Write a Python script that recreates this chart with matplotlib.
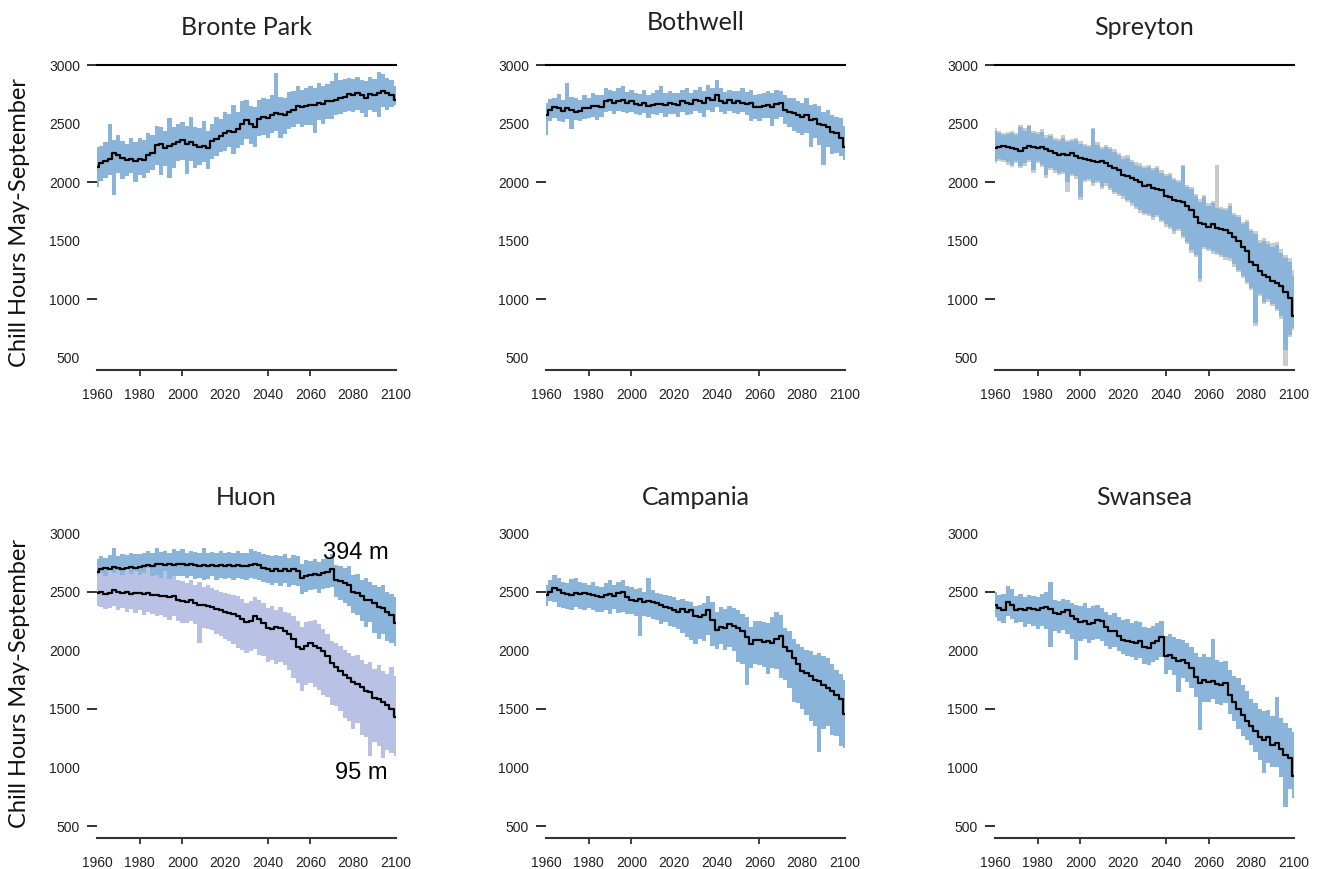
import numpy as np
import matplotlib.pyplot as plt

# ensemble range (lo/hi) and ensemble mean, chill hours May-September, every 2nd year
years = np.arange(1960, 2101, 2)

bronte_mean = [2130, 2160, 2180, 2200, 2250, 2230, 2210, 2190, 2200, 2180,
               2200, 2190, 2230, 2250, 2320, 2330, 2290, 2310, 2330, 2340,
               2360, 2330, 2340, 2320, 2300, 2310, 2290, 2350, 2370, 2390,
               2420, 2440, 2430, 2450, 2500, 2530, 2500, 2470, 2540, 2560,
               2550, 2570, 2590, 2580, 2570, 2600, 2620, 2650, 2640, 2650,
               2660, 2660, 2680, 2670, 2690, 2690, 2700, 2720, 2730, 2750,
               2740, 2760, 2740, 2720, 2750, 2740, 2760, 2780, 2760, 2740,
               2700]
bronte_hi = [2300, 2310, 2340, 2500, 2360, 2400, 2350, 2330, 2380, 2340,
             2380, 2360, 2420, 2400, 2480, 2470, 2440, 2550, 2470, 2500,
             2510, 2480, 2560, 2470, 2460, 2520, 2440, 2500, 2560, 2540,
             2600, 2580, 2660, 2600, 2690, 2700, 2650, 2640, 2700, 2720,
             2710, 2740, 2930, 2730, 2720, 2770, 2780, 2820, 2790, 2800,
             2820, 2800, 2850, 2820, 2840, 2860, 2930, 2870, 2880, 2890,
             2880, 2900, 2870, 2860, 2900, 2880, 2940, 2920, 2890, 2870,
             2820]
bronte_lo = [1960, 2010, 2040, 2060, 1890, 2080, 2030, 2050, 2080, 2000,
             2060, 2040, 2080, 2100, 2150, 2060, 2140, 2040, 2120, 2180,
             2190, 2070, 2180, 2120, 2150, 2170, 2110, 2200, 2220, 2260,
             2270, 2300, 2240, 2290, 2320, 2370, 2330, 2300, 2390, 2400,
             2380, 2420, 2440, 2380, 2410, 2450, 2470, 2500, 2470, 2490,
             2490, 2420, 2530, 2500, 2540, 2540, 2570, 2580, 2600, 2610,
             2600, 2620, 2590, 2560, 2620, 2600, 2560, 2640, 2620, 2640,
             2660]

bothwell_mean = [2570, 2620, 2640, 2630, 2610, 2630, 2620, 2600, 2610, 2630,
                 2630, 2650, 2650, 2640, 2690, 2700, 2680, 2690, 2700, 2680,
                 2690, 2670, 2660, 2680, 2650, 2660, 2670, 2670, 2660, 2680,
                 2670, 2660, 2690, 2680, 2670, 2700, 2690, 2680, 2720, 2700,
                 2740, 2690, 2680, 2700, 2680, 2690, 2680, 2670, 2680, 2640,
                 2640, 2650, 2660, 2640, 2670, 2680, 2620, 2600, 2590, 2570,
                 2560, 2570, 2530, 2540, 2500, 2490, 2470, 2430, 2420, 2380,
                 2300]
bothwell_hi = [2680, 2710, 2720, 2750, 2700, 2850, 2730, 2720, 2700, 2740,
               2720, 2760, 2740, 2740, 2800, 2790, 2780, 2800, 2820, 2770,
               2790, 2760, 2750, 2790, 2740, 2760, 2790, 2820, 2760, 2780,
               2760, 2760, 2790, 2800, 2760, 2790, 2810, 2780, 2830, 2800,
               2870, 2800, 2770, 2790, 2780, 2780, 2800, 2770, 2790, 2740,
               2750, 2760, 2780, 2760, 2790, 2780, 2740, 2720, 2720, 2690,
               2680, 2720, 2660, 2670, 2650, 2600, 2620, 2570, 2560, 2550,
               2480]
bothwell_lo = [2400, 2520, 2550, 2520, 2510, 2540, 2450, 2530, 2520, 2540,
               2550, 2560, 2530, 2560, 2600, 2610, 2580, 2610, 2600, 2590,
               2600, 2580, 2570, 2590, 2550, 2580, 2570, 2590, 2560, 2580,
               2580, 2560, 2600, 2570, 2580, 2610, 2590, 2560, 2620, 2600,
               2640, 2600, 2580, 2610, 2590, 2580, 2600, 2570, 2520, 2540,
               2520, 2550, 2550, 2480, 2540, 2560, 2500, 2470, 2440, 2420,
               2400, 2420, 2300, 2380, 2320, 2150, 2300, 2240, 2250, 2220,
               2190]

spreyton_mean = [2290, 2300, 2310, 2300, 2290, 2280, 2270, 2290, 2310, 2300,
                 2290, 2300, 2280, 2270, 2250, 2230, 2240, 2230, 2250, 2220,
                 2210, 2200, 2190, 2180, 2170, 2180, 2160, 2140, 2120, 2100,
                 2060, 2050, 2040, 2020, 2000, 1970, 1980, 1950, 1940, 1930,
                 1880, 1870, 1850, 1840, 1830, 1800, 1760, 1700, 1650, 1640,
                 1620, 1640, 1610, 1600, 1590, 1570, 1530, 1500, 1450, 1410,
                 1320, 1290, 1240, 1210, 1190, 1160, 1140, 1110, 1060, 1010,
                 860]
spreyton_hi = [2440, 2420, 2400, 2410, 2420, 2400, 2470, 2440, 2480, 2420,
               2410, 2430, 2380, 2390, 2360, 2350, 2380, 2340, 2350, 2360,
               2330, 2310, 2300, 2450, 2320, 2280, 2300, 2280, 2260, 2230,
               2200, 2210, 2170, 2150, 2140, 2120, 2130, 2100, 2120, 2080,
               2050, 2060, 2020, 2000, 2140, 1960, 1940, 1880, 1830, 1870,
               1800, 1820, 1780, 1770, 1760, 1800, 1720, 1700, 1640, 1660,
               1580, 1560, 1480, 1500, 1470, 1450, 1460, 1400, 1350, 1320,
               1200]
spreyton_lo = [2180, 2200, 2190, 2170, 2150, 2180, 2140, 2160, 2190, 2100,
               2180, 2150, 2060, 2120, 2100, 2080, 2090, 2000, 2070, 2050,
               1870, 2020, 2030, 1990, 2010, 1960, 1990, 1950, 1920, 1900,
               1880, 1850, 1820, 1790, 1760, 1740, 1730, 1700, 1720, 1680,
               1640, 1620, 1580, 1600, 1540, 1490, 1420, 1380, 1170, 1450,
               1430, 1410, 1400, 1380, 1360, 1350, 1300, 1250, 1200, 1150,
               1100, 800, 1050, 980, 1000, 960, 920, 860, 570, 700,
               760]
# second (grey) ensemble at Spreyton, mostly hidden behind the blue one
spreyton2_hi = [2460, 2440, 2420, 2430, 2440, 2420, 2490, 2460, 2490, 2440,
                2430, 2450, 2400, 2410, 2380, 2370, 2400, 2360, 2370, 2380,
                2350, 2330, 2320, 2460, 2340, 2300, 2320, 2300, 2280, 2250,
                2220, 2230, 2190, 2170, 2160, 2140, 2150, 2120, 2140, 2100,
                2070, 2080, 2040, 2020, 2150, 1980, 1960, 1900, 1860, 1890,
                1820, 1840, 2150, 1790, 1780, 1820, 1740, 1720, 1660, 1680,
                1600, 1580, 1510, 1520, 1500, 1480, 1490, 1430, 1380, 1350,
                1250]
spreyton2_lo = [2160, 2180, 2170, 2150, 2130, 2160, 2120, 2140, 2170, 2080,
                2160, 2130, 2040, 2100, 2080, 2060, 2070, 1920, 2050, 2030,
                1850, 2000, 2010, 1970, 1990, 1940, 1970, 1930, 1900, 1880,
                1860, 1830, 1800, 1770, 1740, 1720, 1710, 1680, 1700, 1660,
                1620, 1600, 1560, 1580, 1520, 1470, 1400, 1360, 1150, 1430,
                1410, 1390, 1380, 1360, 1340, 1330, 1280, 1230, 1180, 1130,
                1080, 770, 1030, 960, 980, 940, 900, 830, 430, 680,
                740]

huon394_mean = [2670, 2690, 2700, 2690, 2710, 2700, 2690, 2700, 2710, 2700,
                2710, 2720, 2730, 2720, 2740, 2740, 2730, 2740, 2730, 2740,
                2740, 2730, 2740, 2730, 2720, 2730, 2720, 2730, 2720, 2730,
                2720, 2730, 2720, 2730, 2720, 2720, 2730, 2740, 2730, 2700,
                2690, 2680, 2690, 2680, 2690, 2680, 2690, 2680, 2620, 2630,
                2640, 2650, 2640, 2660, 2670, 2690, 2600, 2590, 2570, 2560,
                2500, 2490, 2460, 2430, 2430, 2400, 2370, 2360, 2330, 2300,
                2230]
huon394_hi = [2780, 2800, 2790, 2810, 2870, 2800, 2820, 2810, 2830, 2820,
              2820, 2830, 2850, 2830, 2870, 2840, 2850, 2830, 2860, 2850,
              2860, 2830, 2850, 2840, 2830, 2870, 2830, 2840, 2830, 2850,
              2830, 2840, 2830, 2850, 2830, 2830, 2860, 2850, 2840, 2820,
              2810, 2800, 2810, 2800, 2820, 2790, 2810, 2800, 2740, 2770,
              2760, 2780, 2750, 2780, 2790, 2820, 2730, 2720, 2700, 2720,
              2640, 2650, 2600, 2620, 2580, 2560, 2540, 2560, 2500, 2480,
              2450]
huon394_lo = [2560, 2580, 2590, 2570, 2600, 2590, 2580, 2600, 2590, 2610,
              2600, 2620, 2610, 2630, 2630, 2620, 2640, 2610, 2620, 2630,
              2630, 2620, 2630, 2610, 2620, 2600, 2610, 2630, 2600, 2620,
              2610, 2620, 2600, 2620, 2610, 2600, 2620, 2610, 2600, 2580,
              2570, 2560, 2570, 2550, 2570, 2540, 2560, 2550, 2480, 2500,
              2510, 2520, 2490, 2520, 2530, 2540, 2450, 2430, 2400, 2380,
              2320, 2300, 2250, 2200, 2240, 2150, 2100, 2140, 2080, 2060,
              2040]

huon95_mean = [2490, 2500, 2480, 2490, 2510, 2500, 2490, 2500, 2480, 2490,
               2490, 2480, 2490, 2470, 2470, 2460, 2460, 2450, 2460, 2430,
               2420, 2410, 2430, 2400, 2390, 2390, 2380, 2370, 2350, 2340,
               2330, 2320, 2310, 2290, 2270, 2240, 2250, 2290, 2270, 2230,
               2190, 2180, 2200, 2190, 2160, 2140, 2100, 2030, 2010, 2040,
               2060, 2040, 2020, 1990, 1950, 1890, 1860, 1820, 1790, 1760,
               1730, 1710, 1690, 1650, 1640, 1590, 1580, 1560, 1530, 1500,
               1430]
huon95_hi = [2640, 2660, 2630, 2700, 2660, 2680, 2640, 2720, 2650, 2680,
             2640, 2660, 2700, 2630, 2640, 2620, 2680, 2610, 2630, 2600,
             2590, 2570, 2600, 2560, 2580, 2540, 2560, 2530, 2510, 2500,
             2490, 2480, 2470, 2460, 2440, 2400, 2420, 2450, 2430, 2400,
             2360, 2380, 2340, 2370, 2330, 2320, 2290, 2250, 2200, 2240,
             2250, 2260, 2220, 2180, 2140, 2080, 2060, 2040, 2000, 1980,
             1950, 1960, 1920, 1880, 1900, 1840, 1870, 1820, 1800, 1860,
             1780]
huon95_lo = [2380, 2370, 2350, 2360, 2380, 2340, 2360, 2330, 2350, 2320,
             2340, 2300, 2330, 2310, 2290, 2300, 2280, 2260, 2290, 2250,
             2230, 2230, 2250, 2220, 2060, 2190, 2180, 2170, 2140, 2120,
             2100, 2080, 2050, 2020, 2000, 1980, 1990, 2010, 1960, 1950,
             1900, 1920, 1880, 1900, 1870, 1830, 1760, 1720, 1650, 1700,
             1720, 1690, 1660, 1620, 1600, 1530, 1520, 1480, 1420, 1400,
             1330, 1380, 1280, 1260, 1100, 1220, 1180, 1080, 1150, 1120,
             1100]

campania_mean = [2470, 2500, 2530, 2510, 2490, 2480, 2470, 2490, 2480, 2490,
                 2480, 2470, 2460, 2450, 2470, 2480, 2460, 2490, 2500, 2450,
                 2430, 2420, 2440, 2410, 2420, 2410, 2400, 2390, 2370, 2360,
                 2340, 2330, 2350, 2330, 2340, 2290, 2280, 2300, 2340, 2260,
                 2170, 2200, 2190, 2220, 2210, 2190, 2160, 2110, 2050, 2090,
                 2090, 2070, 2080, 2060, 2100, 2120, 2030, 1990, 1930, 1880,
                 1820, 1810, 1780, 1750, 1740, 1700, 1680, 1650, 1620, 1580,
                 1460]
campania_hi = [2560, 2600, 2640, 2620, 2580, 2570, 2610, 2620, 2580, 2570,
               2560, 2580, 2550, 2540, 2570, 2600, 2560, 2580, 2600, 2550,
               2540, 2520, 2530, 2500, 2620, 2510, 2490, 2480, 2470, 2460,
               2450, 2430, 2440, 2420, 2410, 2380, 2390, 2400, 2460, 2410,
               2330, 2370, 2350, 2380, 2360, 2340, 2310, 2280, 2200, 2250,
               2250, 2240, 2230, 2280, 2330, 2300, 2190, 2160, 2100, 2050,
               2030, 2000, 1990, 1960, 1980, 1950, 1930, 1880, 1830, 1800,
               1750]
campania_lo = [2380, 2420, 2410, 2370, 2360, 2350, 2340, 2370, 2350, 2340,
               2360, 2340, 2330, 2330, 2340, 2310, 2350, 2320, 2330, 2310,
               2310, 2290, 2120, 2290, 2280, 2270, 2260, 2220, 2240, 2210,
               2200, 2180, 2150, 2110, 2090, 2050, 2100, 2080, 2130, 2040,
               2010, 2050, 2000, 2030, 1990, 1900, 1880, 1700, 1850, 1880,
               1870, 1860, 1800, 1850, 1840, 1760, 1750, 1680, 1560, 1550,
               1500, 1450, 1400, 1350, 1130, 1330, 1350, 1280, 1270, 1180,
               1170]

swansea_mean = [2390, 2360, 2340, 2410, 2390, 2340, 2350, 2340, 2360, 2350,
                2340, 2360, 2370, 2350, 2320, 2310, 2330, 2340, 2290, 2270,
                2240, 2250, 2220, 2230, 2260, 2250, 2200, 2160, 2160, 2120,
                2090, 2080, 2070, 2060, 2080, 2030, 2020, 2060, 2080, 2110,
                1950, 1960, 1930, 1910, 1920, 1890, 1850, 1770, 1720, 1750,
                1730, 1740, 1710, 1700, 1720, 1620, 1560, 1500, 1450, 1400,
                1350, 1310, 1260, 1230, 1260, 1190, 1210, 1160, 1110, 1080,
                930]
swansea_hi = [2500, 2470, 2480, 2550, 2520, 2460, 2480, 2450, 2470, 2460,
              2450, 2480, 2500, 2580, 2430, 2420, 2440, 2430, 2400, 2390,
              2380, 2400, 2360, 2380, 2390, 2360, 2330, 2300, 2320, 2280,
              2260, 2270, 2230, 2250, 2240, 2200, 2190, 2210, 2230, 2250,
              2120, 2140, 2110, 2100, 2090, 2060, 2030, 1980, 1940, 1970,
              1940, 2100, 1920, 1900, 1910, 1830, 1780, 1760, 1700, 1650,
              1580, 1550, 1500, 1480, 1490, 1440, 1600, 1420, 1380, 1340,
              1300]
swansea_lo = [2280, 2250, 2230, 2290, 2270, 2230, 2240, 2200, 2220, 2210,
              2180, 2210, 2180, 2030, 2160, 2150, 2170, 2140, 2100, 1920,
              2080, 2100, 2060, 2090, 2100, 2080, 2040, 2010, 2030, 1990,
              1970, 1950, 1940, 1920, 1930, 1880, 1870, 1900, 1920, 1940,
              1800, 1830, 1790, 1640, 1760, 1730, 1680, 1600, 1320, 1560,
              1560, 1580, 1540, 1530, 1550, 1460, 1400, 1330, 1270, 1230,
              1190, 1130, 1060, 950, 1040, 1000, 1000, 920, 660, 820,
              740]

xticks = [1960, 1980, 2000, 2020, 2040, 2060, 2080, 2100]
yticks = [500, 1000, 1500, 2000, 2500, 3000]

BLUE = '#8ab4da'
LAVENDER = '#b9c1e5'
GREY = '#cbcbcb'

# (title, bands [(lo, hi, colour)], means, visible x tick marks)
panels = [
    ("Bronte Park", [(bronte_lo, bronte_hi, BLUE)], [bronte_mean], [1980, 2000, 2040, 2060]),
    ("Bothwell", [(bothwell_lo, bothwell_hi, BLUE)], [bothwell_mean], [1980, 2000, 2060]),
    ("Spreyton", [(spreyton2_lo, spreyton2_hi, GREY), (spreyton_lo, spreyton_hi, BLUE)],
     [spreyton_mean], [1980, 2000, 2040, 2060]),
    ("Huon", [(huon394_lo, huon394_hi, BLUE), (huon95_lo, huon95_hi, LAVENDER)],
     [huon394_mean, huon95_mean], [1980, 2000, 2040, 2060]),
    ("Campania", [(campania_lo, campania_hi, BLUE)], [campania_mean], [1980, 2000, 2060]),
    ("Swansea", [(swansea_lo, swansea_hi, BLUE)], [swansea_mean], [1980, 2000, 2040, 2060]),
]
ytick_show = [[1000, 2000, 3000], [500, 1500, 2500]]

fig = plt.figure(figsize=(13.21, 8.69), dpi=100)

lefts = [0.0734, 0.4133, 0.7532]
bottoms = [0.5739, 0.0353]
w, h = 0.2263, 0.3513
title_y = [[0.9597, 0.9655, 0.9597], [0.4189, 0.4189, 0.4189]]

for i, (name, bands, means, xshow) in enumerate(panels):
    row, col = divmod(i, 3)
    ax = fig.add_axes([lefts[col], bottoms[row], w, h])
    for lo, hi, c in bands:
        ax.fill_between(years, lo, hi, color=c, lw=0, step='mid')
    for m in means:
        ax.plot(years, m, color='black', lw=1.6, drawstyle='steps-mid')

    ax.set_xlim(1960, 2100)
    ax.set_ylim(395, 3000)
    ax.set_xticks(xticks)
    ax.set_yticks(yticks)
    ax.set_xticklabels([str(v) for v in xticks], family='Liberation Sans', fontsize=10)
    ax.set_yticklabels([str(v) for v in yticks], family='Liberation Sans', fontsize=10)
    ax.tick_params(axis='x', length=4.5, width=1.3, pad=8, colors='#333333', labelcolor='#222222')
    ax.tick_params(axis='y', length=7.2, width=1.3, pad=5, colors='#222222', labelcolor='#222222')
    for t, v in zip(ax.xaxis.get_major_ticks(), xticks):
        t.tick1line.set_visible(v in xshow)
    for t, v in zip(ax.yaxis.get_major_ticks(), yticks):
        t.tick1line.set_visible(v in ytick_show[row])

    for s in ['left', 'right']:
        ax.spines[s].set_visible(False)
    ax.spines['bottom'].set_linewidth(1.5)
    ax.spines['bottom'].set_color('#333333')
    if row == 0:
        ax.spines['top'].set_linewidth(1.5)
        ax.spines['top'].set_color('black')
    else:
        ax.spines['top'].set_visible(False)

    fig.text(lefts[col] + w / 2, title_y[row][col], name, ha='center', va='baseline',
             fontsize=18, family='Lato', color='#222222')

    if name == "Huon":
        ax.text(2081, 2829, "394 m", ha='center', va='center', fontsize=17, family='Liberation Sans')
        ax.text(2084, 952, "95 m", ha='center', va='center', fontsize=17, family='Liberation Sans')

for yc in [0.7434, 0.2140]:
    fig.text(0.0151, yc, "Chill Hours May-September", rotation=90, ha='center', va='center',
             fontsize=17, family='Lato', color='#111111')

fig.savefig('out.png', dpi=100)
